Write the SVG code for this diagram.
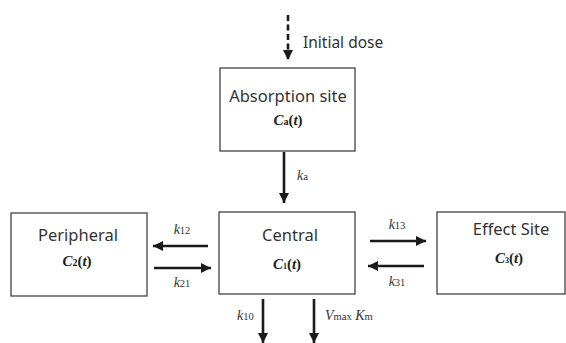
<svg xmlns="http://www.w3.org/2000/svg" width="566" height="343" viewBox="0 0 566 343">
<style>
.box{fill:#fff;stroke:#333;stroke-width:1.2}
.lbl{font-family:"Noto Sans","Open Sans",sans-serif;font-size:16.5px;fill:#333;text-anchor:middle}
.math{font-family:"Liberation Serif","Times New Roman",serif;font-size:15px;fill:#222}
.mc{text-anchor:middle;font-weight:bold}
.k{font-family:"Liberation Serif","Times New Roman",serif;font-size:14px;fill:#333;font-style:italic}
.sub{font-style:normal;font-size:10.5px}
.arr{stroke:#1a1a1a;stroke-width:2.6;fill:none;marker-end:url(#ah)}
.dose{font-family:"Noto Sans","Open Sans",sans-serif;font-size:15.5px;fill:#333}
</style>
<defs>
<marker id="ah" markerUnits="userSpaceOnUse" markerWidth="12" markerHeight="12" refX="10" refY="5" orient="auto">
<path d="M0,0 L10,5 L0,10 Z" fill="#1a1a1a"/>
</marker>
</defs>
<rect width="566" height="343" fill="#fff"/>
<g id="absorption">
<rect class="box" x="220" y="68" width="135" height="83"/>
<text class="lbl" x="288" y="102">Absorption site</text>
<text class="math mc" x="288" y="125"><tspan font-style="italic">C</tspan><tspan font-size="10px" font-style="normal">a</tspan>(<tspan font-style="italic">t</tspan>)</text>
</g>
<g id="peripheral">
<rect class="box" x="11" y="213" width="136" height="83"/>
<text class="lbl" x="78" y="241">Peripheral</text>
<text class="math mc" x="77" y="266"><tspan font-style="italic">C</tspan><tspan font-size="10px">2</tspan>(<tspan font-style="italic">t</tspan>)</text>
</g>
<g id="central">
<rect class="box" x="219" y="212" width="136" height="82"/>
<text class="lbl" x="290" y="241">Central</text>
<text class="math mc" x="287" y="269"><tspan font-style="italic">C</tspan><tspan font-size="8px">1</tspan>(<tspan font-style="italic">t</tspan>)</text>
</g>
<g id="effect">
<rect class="box" x="437" y="212" width="128" height="82"/>
<text class="lbl" x="511" y="235">Effect Site</text>
<text class="math mc" x="509" y="263"><tspan font-style="italic">C</tspan><tspan font-size="8px">3</tspan>(<tspan font-style="italic">t</tspan>)</text>
</g>
<g id="connectors">
<line class="arr" x1="288" y1="15" x2="288" y2="60" stroke-dasharray="6,3.5"/>
<line class="arr" x1="284" y1="152" x2="284" y2="203"/>
<line class="arr" x1="208" y1="246" x2="153" y2="246"/>
<line class="arr" x1="154" y1="268" x2="211" y2="268"/>
<line class="arr" x1="370" y1="241" x2="426" y2="241"/>
<line class="arr" x1="424" y1="266" x2="368" y2="266"/>
<line class="arr" x1="263" y1="299" x2="263" y2="343"/>
<line class="arr" x1="314" y1="299" x2="314" y2="343"/>
<text class="dose" x="303" y="48">Initial dose</text>
<text class="k" x="297" y="180">k<tspan class="sub" font-style="italic">a</tspan></text>
<text class="k" x="182" y="234" text-anchor="middle">k<tspan class="sub">12</tspan></text>
<text class="k" x="182" y="287" text-anchor="middle">k<tspan class="sub">21</tspan></text>
<text class="k" x="397" y="229" text-anchor="middle">k<tspan class="sub">13</tspan></text>
<text class="k" x="397" y="286" text-anchor="middle">k<tspan class="sub">31</tspan></text>
<text class="k" x="237" y="320">k<tspan class="sub">10</tspan></text>
<text class="k" x="325" y="320">V<tspan class="sub" font-style="italic">max</tspan> K<tspan class="sub" font-style="italic">m</tspan></text>
</g>
</svg>
